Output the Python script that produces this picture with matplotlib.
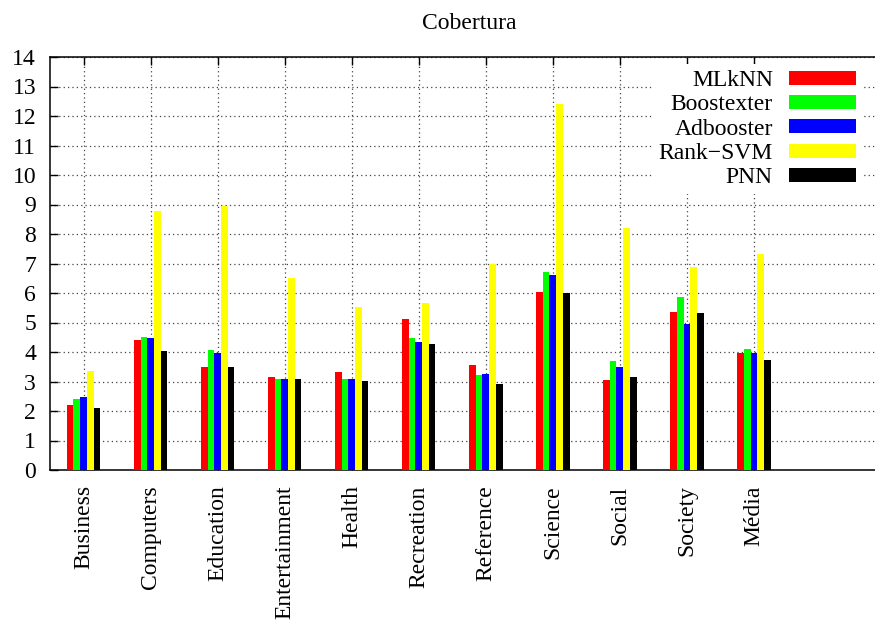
import numpy as np
import matplotlib
matplotlib.use("Agg")
import matplotlib.pyplot as plt

categories = ["Business", "Computers", "Education", "Entertainment", "Health",
              "Recreation", "Reference", "Science", "Social", "Society", "Média"]
methods = ["MLkNN", "Boostexter", "Adbooster", "Rank\u2212SVM", "PNN"]
mlknn = [2.20, 4.41, 3.49, 3.14, 3.31, 5.11, 3.56, 6.04, 3.05, 5.36, 3.96]
boostexter = [2.40, 4.50, 4.06, 3.08, 3.08, 4.47, 3.22, 6.70, 3.69, 5.86, 4.10]
adbooster = [2.47, 4.48, 3.96, 3.08, 3.08, 4.34, 3.26, 6.60, 3.49, 4.96, 3.96]
rank_svm = [3.35, 8.78, 8.95, 6.50, 5.53, 5.66, 6.98, 12.40, 8.21, 6.88, 7.33]
pnn = [2.09, 4.02, 3.49, 3.08, 3.01, 4.27, 2.91, 6.00, 3.14, 5.33, 3.74]

series = [mlknn, boostexter, adbooster, rank_svm, pnn]
colors = ["#ff0000", "#00ff00", "#0000ff", "#ffff00", "#000000"]

plt.rcParams.update({
    "font.family": ["Liberation Serif", "DejaVu Serif"],
    "font.size": 17,
    "axes.linewidth": 1.1,
})

fig = plt.figure(figsize=(8.75, 6.21), dpi=100)
ax = fig.add_axes([50 / 875, 1 - 470 / 621, 838 / 875, 413 / 621])

x = np.arange(len(categories))
w = 0.1
for i, (vals, col, name) in enumerate(zip(series, colors, methods)):
    ax.bar(x + (i - 2) * w, vals, width=w, color=col, label=name,
           linewidth=0, zorder=3)

ax.set_xlim(-0.5, 12)
ax.set_ylim(0, 14)
ax.set_yticks(range(0, 15))
ax.set_xticks(x)
ax.set_xticklabels(categories, rotation=90, va="top", ha="center")
ax.tick_params(axis="both", direction="in", length=6, width=1,
               top=True, right=True)
ax.tick_params(axis="x", pad=11)
ax.tick_params(axis="y", pad=10)
ax.grid(True, color="#444444", linestyle=(0, (1, 2.5)), linewidth=0.9, zorder=1)
ax.set_axisbelow(True)

ax.set_title("Cobertura", fontsize=17, pad=20)

leg = ax.legend(loc="upper right", bbox_to_anchor=(819 / 838, 1.0),
                markerfirst=False, frameon=True, fancybox=False,
                framealpha=1, edgecolor="none", facecolor="white",
                fontsize=17, handlelength=2.84, handleheight=0.54,
                handletextpad=0.68, labelspacing=0.14, borderpad=0.25,
                borderaxespad=0.3)
leg.set_zorder(5)

fig.savefig("out.png", dpi=100)
